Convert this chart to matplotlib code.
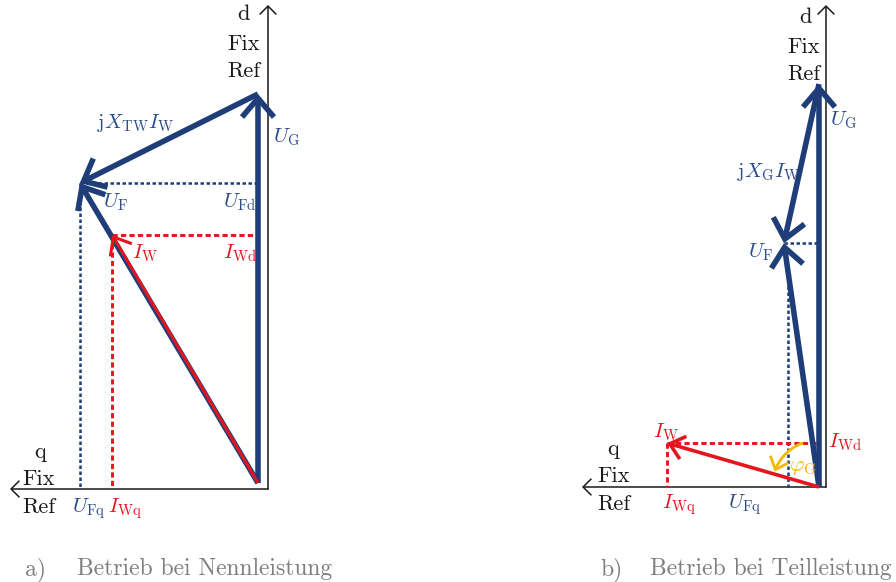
import numpy as np
import matplotlib
matplotlib.use("Agg")
import matplotlib.pyplot as plt

# ---------------- data (per-unit phasors, components (q, d); U_G = 1) -------------
UG_a = [0.0, 1.0]          # generator voltage, rated operation
UF_a = [0.458, 0.771]      # filter voltage
IW_a = [0.375, 0.638]      # inverter current

UG_b = [0.0, 1.0]          # generator voltage, partial load
UF_b = [0.087, 0.605]
IW_b = [0.377, 0.109]

labels_axis = ["d", "Fix", "Ref", "q"]
captions = ["a)", "Betrieb bei Nennleistung", "b)", "Betrieb bei Teilleistung"]

# ---------------- style ----------------
plt.rcParams["mathtext.fontset"] = "cm"
BLUE = "#1f3d78"
BLUE_T = "#2c4c8c"
RED = "#e3161e"
YEL = "#f5b800"
BLK = "#1a1a1a"
GREY = "#7d7d7d"
FS = 16
FSM = 15
FSC = 17

fig = plt.figure(figsize=(8.96, 5.82), dpi=100)
ax = fig.add_axes([0, 0, 1, 1])
ax.set_xlim(0, 896)
ax.set_ylim(582, 0)
ax.axis("off")


def make_tf(origin, scale):
    ox, oy = origin

    def tf(v):
        return (ox - scale * v[0], oy - scale * v[1])
    return tf


def arrow(p0, p1, color, lw, hl, hw, z=3):
    ax.annotate("", xy=p1, xytext=p0,
                arrowprops=dict(arrowstyle=f"->,head_length={hl},head_width={hw}",
                                color=color, lw=lw, shrinkA=0, shrinkB=0,
                                mutation_scale=1, joinstyle="miter",
                                capstyle="butt"), zorder=z)


def dashed(p0, p1, color, lw, dashes, z=2):
    ax.plot([p0[0], p1[0]], [p0[1], p1[1]], color=color, lw=lw,
            dashes=dashes, zorder=z, solid_capstyle="butt",
            dash_capstyle="butt")


def axes_cross(corner, top_y, left_x):
    cx, cy = corner
    arrow((cx, cy + 0.6), (cx, top_y), BLK, 1.1, 6, 6, z=1)
    arrow((cx + 0.6, cy), (left_x, cy), BLK, 1.1, 6, 6, z=1)


def txt(x, y, s, color=BLK, size=FS, ha="left", math=False):
    kw = dict(color=color, ha=ha, va="baseline", zorder=6)
    if math:
        ax.text(x, y, s, fontsize=size, **kw)
    else:
        ax.text(x, y, s, fontsize=size, family="cmr10", **kw)


BHL, BHW = 13.5, 11.5

# ================= panel a =================
tfa = make_tf((258, 483), 389)
O = tfa([0, 0])
axes_cross((268, 489), 5, 10)

pUG, pUF, pIW = tfa(UG_a), tfa(UF_a), tfa(IW_a)
# projections
dashed(pUF, (O[0], pUF[1]), BLUE, 1.8, (1.4, 1.0))
dashed(pUF, (pUF[0], 489), BLUE, 1.8, (1.4, 1.0))
dashed(pIW, (O[0], pIW[1]), RED, 2.1, (1.8, 1.1))
dashed(pIW, (pIW[0], 489), RED, 2.1, (1.8, 1.1))

arrow(O, pUG, BLUE, 4.0, BHL, BHW, z=4)
arrow(pUG, pUF, BLUE, 4.0, BHL, BHW, z=4)
arrow(O, pUF, BLUE, 4.0, BHL, BHW, z=4)
arrow(O, pIW, RED, 2.2, 11, 9, z=5)

txt(243, 20, labels_axis[0], ha="center")
txt(227, 50, labels_axis[1])
txt(227, 77, labels_axis[2])
txt(40, 458, labels_axis[3], ha="center")
txt(22, 485, labels_axis[1])
txt(22, 513, labels_axis[2])

txt(97, 128, r"$\mathrm{j}X_\mathrm{TW}I_\mathrm{W}$", BLUE_T, FSM, math=True)
txt(273, 142, r"$U_\mathrm{G}$", BLUE_T, FSM, math=True)
txt(103, 207, r"$U_\mathrm{F}$", BLUE_T, FSM, math=True)
txt(223, 207, r"$U_\mathrm{Fd}$", BLUE_T, FSM, math=True)
txt(132, 258, r"$I_\mathrm{W}$", RED, FSM, math=True)
txt(223, 258, r"$I_\mathrm{Wd}$", RED, FSM, math=True)
txt(72, 512, r"$U_\mathrm{Fq}$", BLUE_T, FSM, math=True)
txt(108, 512, r"$I_\mathrm{Wq}$", RED, FSM, math=True)

txt(25, 575, captions[0], GREY, FSC)
txt(77, 575, captions[1], GREY, FSC)

# ================= panel b =================
tfb = make_tf((819, 487), 403)
O = tfb([0, 0])
axes_cross((826, 487), 5, 582)

pUG, pUF, pIW = tfb(UG_b), tfb(UF_b), tfb(IW_b)
dashed(pUF, (O[0], pUF[1]), BLUE, 1.8, (1.4, 1.0))
dashed((pUF[0] + 4, pUF[1] + 25), (pUF[0] + 4, 487), BLUE, 1.8, (1.4, 1.0))
dashed(pIW, (O[0], pIW[1]), RED, 2.1, (1.8, 1.1))
dashed(pIW, (pIW[0], 487), RED, 2.1, (1.8, 1.1))

arrow(O, pUG, BLUE, 4.0, BHL, BHW, z=4)
arrow(pUG, pUF, BLUE, 4.0, BHL, BHW, z=4)
arrow(O, pUF, BLUE, 4.0, BHL, BHW, z=4)
arrow(O, pIW, RED, 2.6, 10, 8.5, z=5)

# phi_G arc from the d axis towards I_W
phi_G = np.arctan2(IW_b[0], IW_b[1])
r_arc = 47
th = np.linspace(np.deg2rad(20), phi_G - np.deg2rad(3), 60)
ax_pts = O[0] - r_arc * np.sin(th)
ay_pts = O[1] - r_arc * np.cos(th)
ax.plot(ax_pts[:-3], ay_pts[:-3], color=YEL, lw=2.0, zorder=4,
        solid_capstyle="butt")
arrow((ax_pts[-6], ay_pts[-6]), (ax_pts[-1], ay_pts[-1]), YEL, 2.0, 8, 7, z=4)

txt(805, 23, labels_axis[0], ha="center")
txt(787, 53, labels_axis[1])
txt(787, 80, labels_axis[2])
txt(613, 455, labels_axis[3], ha="center")
txt(597, 482, labels_axis[1])
txt(597, 510, labels_axis[2])

txt(830, 125, r"$U_\mathrm{G}$", BLUE_T, FSM, math=True)
txt(737, 177, r"$\mathrm{j}X_\mathrm{G}I_\mathrm{W}$", BLUE_T, FSM, math=True)
txt(748, 257, r"$U_\mathrm{F}$", BLUE_T, FSM, math=True)
txt(653, 437, r"$I_\mathrm{W}$", RED, FSM, math=True)
txt(828, 447, r"$I_\mathrm{Wd}$", RED, FSM, math=True)
txt(662, 508, r"$I_\mathrm{Wq}$", RED, FSM, math=True)
txt(728, 508, r"$U_\mathrm{Fq}$", BLUE_T, FSM, math=True)
txt(789, 471, r"$\varphi_\mathrm{G}$", YEL, FSM + 1, math=True)

txt(600, 575, captions[2], GREY, FSC)
txt(650, 575, captions[3], GREY, FSC)

fig.savefig("out.png", dpi=100)
